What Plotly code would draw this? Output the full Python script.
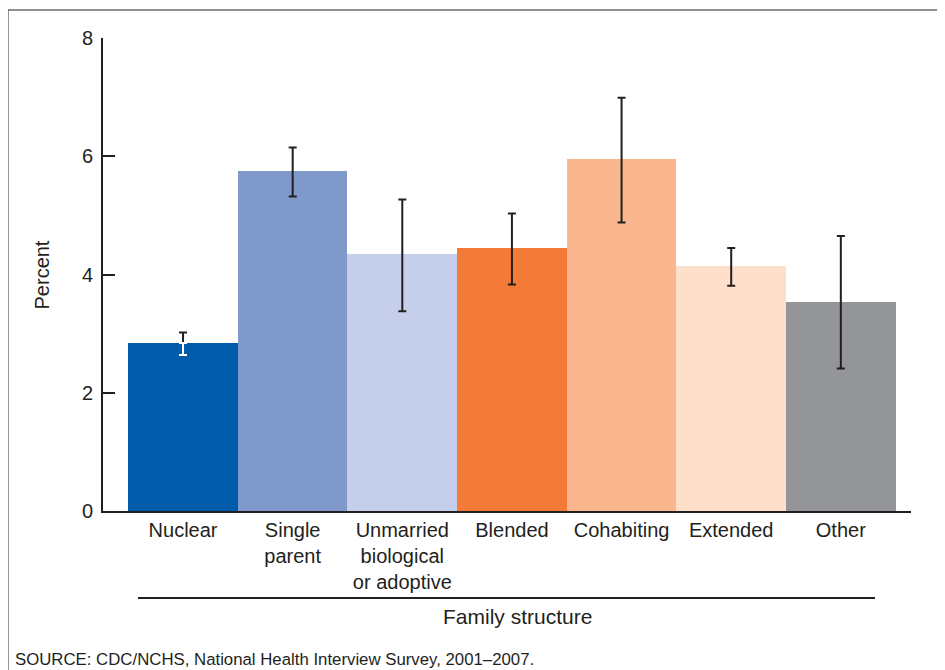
import plotly.graph_objects as go

categories = ["Nuclear", "Single<br>parent", "Unmarried<br>biological<br>or adoptive",
              "Blended", "Cohabiting", "Extended", "Other"]
percent = [2.84, 5.75, 4.35, 4.45, 5.96, 4.15, 3.54]
ci_upper = [3.02, 6.15, 5.27, 5.03, 6.99, 4.45, 4.65]
ci_lower = [2.64, 5.32, 3.38, 3.83, 4.88, 3.81, 2.41]
colors = ["#005BAA", "#7F99CB", "#C5CEEA", "#F47A37", "#FAB68F", "#FEE0CA", "#939598"]
y_ticks = [0, 2, 4, 6, 8]

xs = list(range(len(categories)))
err_plus = [u - p for u, p in zip(ci_upper, percent)]
err_minus = [p - l for p, l in zip(percent, ci_lower)]
dark = "#231f20"

fig = go.Figure()
fig.add_trace(go.Bar(x=xs, y=percent, width=1.0, marker=dict(color=colors, line=dict(width=0)),
                     showlegend=False, hoverinfo="skip"))
# full dark error bars for bars 2..7
fig.add_trace(go.Scatter(x=xs[1:], y=percent[1:], mode="markers", marker=dict(size=1, opacity=0),
                         error_y=dict(type="data", symmetric=False, array=err_plus[1:],
                                      arrayminus=err_minus[1:], color=dark, thickness=2, width=4),
                         showlegend=False, hoverinfo="skip"))
# first bar: dark above the bar top, white inside the bar
fig.add_trace(go.Scatter(x=xs[:1], y=percent[:1], mode="markers", marker=dict(size=1, opacity=0),
                         error_y=dict(type="data", symmetric=False, array=err_plus[:1],
                                      arrayminus=[0], color=dark, thickness=2, width=4),
                         showlegend=False, hoverinfo="skip"))
fig.add_trace(go.Scatter(x=xs[:1], y=percent[:1], mode="markers", marker=dict(size=1, opacity=0),
                         error_y=dict(type="data", symmetric=False, array=[0],
                                      arrayminus=err_minus[:1], color="#ffffff", thickness=2, width=4),
                         showlegend=False, hoverinfo="skip"))

font_family = "Liberation Sans, Arial, sans-serif"
fig.update_layout(
    width=929, height=662,
    margin=dict(l=95, r=26, t=30, b=159),
    paper_bgcolor="white", plot_bgcolor="white",
    font=dict(family=font_family, size=20, color=dark),
    bargap=0,
    xaxis=dict(range=[-0.73, 6.64], tickvals=xs, ticktext=categories, ticks="",
               showline=True, linecolor=dark, linewidth=2, showgrid=False,
               zeroline=False, tickfont=dict(size=20), fixedrange=True),
    yaxis=dict(range=[0, 8], tickvals=y_ticks, ticks="inside", ticklen=12, tickwidth=2,
               tickcolor=dark, showline=True, linecolor=dark, linewidth=2,
               showgrid=False, zeroline=False, tickfont=dict(size=20),
               ticklabelstandoff=4),
    shapes=[
        # outer frame: left and top edges (others lie beyond the picture)
        dict(type="line", xref="paper", yref="paper", x0=-0.1176, x1=-0.1176, y0=-0.6, y1=1.0592,
             line=dict(color=dark, width=1), layer="below"),
        dict(type="line", xref="paper", yref="paper", x0=-0.1176, x1=1.3, y0=1.0592, y1=1.0592,
             line=dict(color=dark, width=1), layer="below"),
        dict(type="line", xref="paper", yref="paper", x0=0.0433, x1=0.9554, y0=-0.1839, y1=-0.1839,
             line=dict(color=dark, width=2)),
    ],
    annotations=[
        dict(text="Percent", xref="paper", yref="paper", x=-0.0755, y=0.5, textangle=-90,
             showarrow=False, xanchor="center", yanchor="middle", font=dict(size=20)),
        dict(text="Family structure", xref="paper", yref="paper", x=0.5136, y=-0.2241,
             showarrow=False, xanchor="center", yanchor="middle", font=dict(size=21)),
        dict(text="SOURCE: CDC/NCHS, National Health Interview Survey, 2001–2007.",
             xref="paper", yref="paper", x=-0.1114, y=-0.315, showarrow=False,
             xanchor="left", yanchor="middle", font=dict(size=16.8)),
    ],
)

fig.write_html("out.html", post_script="document.body.style.overflow='hidden';")
